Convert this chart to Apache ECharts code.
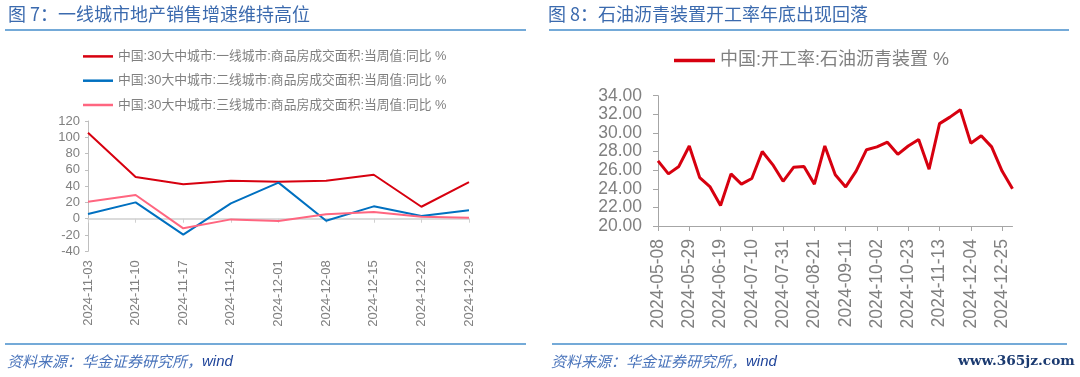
<!DOCTYPE html>
<html>
<head>
<meta charset="utf-8">
<script src="https://cdn.jsdelivr.net/npm/echarts@6/dist/echarts.min.js"></script>
<style>
html,body{margin:0;padding:0;background:#fff;}
#c{width:1080px;height:377px;}
</style>
</head>
<body>
<div id="c"></div>
<script>
// ---- Left chart data ----
const leftDates = ['2024-11-03','2024-11-10','2024-11-17','2024-11-24','2024-12-01','2024-12-08','2024-12-15','2024-12-22','2024-12-29'];
const tier1 = [105.6, 51.2, 42.2, 46.7, 45.5, 46.7, 54.0, 14.7, 45.0];
const tier2 = [5.7, 20.1, -19.6, 18.9, 44.3, -2.5, 15.2, 3.3, 10.3];
const tier3 = [20.9, 29.1, -11.8, -0.8, -2.8, 5.4, 8.2, 2.5, 1.2];
const leftNames = ['中国:30大中城市:一线城市:商品房成交面积:当周值:同比 %',
                   '中国:30大中城市:二线城市:商品房成交面积:当周值:同比 %',
                   '中国:30大中城市:三线城市:商品房成交面积:当周值:同比 %'];

// ---- Right chart data ----
const rightDates = ['2024-05-08','2024-05-15','2024-05-22','2024-05-29','2024-06-05','2024-06-12','2024-06-19',
  '2024-06-26','2024-07-03','2024-07-10','2024-07-17','2024-07-24','2024-07-31','2024-08-07','2024-08-14',
  '2024-08-21','2024-08-28','2024-09-04','2024-09-11','2024-09-18','2024-09-25','2024-10-02','2024-10-09',
  '2024-10-16','2024-10-23','2024-10-30','2024-11-06','2024-11-13','2024-11-20','2024-11-27','2024-12-04',
  '2024-12-11','2024-12-18','2024-12-25','2025-01-01'];
const asphalt = [27.0, 25.6, 26.4, 28.6, 25.2, 24.2, 22.2, 25.6, 24.5, 25.1, 28.0, 26.6, 24.8, 26.3, 26.4,
  24.5, 28.6, 25.5, 24.2, 25.9, 28.2, 28.5, 29.0, 27.7, 28.6, 29.3, 26.1, 31.0, 31.7, 32.5, 28.9,
  29.7, 28.5, 25.9, 24.0];
const rightName = '中国:开工率:石油沥青装置 %';

const FONT = '"Liberation Sans", "Noto Sans CJK SC", sans-serif';
const CJK = '"Noto Sans CJK SC", sans-serif';
const GRAY = '#808080';
const AX = '#bfbfbf';
const LINEBLUE = '#74aad8';
const TITLEBLUE = '#3b6aae';

const chart = echarts.init(document.getElementById('c'), null, {renderer: 'canvas'});

const option = {
  backgroundColor: '#ffffff',
  animation: false,
  textStyle: {fontFamily: FONT},
  legend: [
    {
      data: leftNames,
      orient: 'vertical',
      left: 83, top: 50, padding: 0,
      itemWidth: 30, itemHeight: 2.5, itemGap: 11.5,
      icon: 'rect',
      textStyle: {color: GRAY, fontSize: 12.8, lineHeight: 12, fontFamily: FONT},
      selectedMode: false
    },
    {
      data: [rightName],
      left: 674, top: 51.5, padding: 0,
      itemWidth: 41, itemHeight: 3.5, itemGap: 5,
      icon: 'rect',
      textStyle: {color: GRAY, fontSize: 18, fontFamily: FONT},
      selectedMode: false
    }
  ],
  grid: [
    {left: 88, right: 611, top: 121, bottom: 125.7, containLabel: false},
    {left: 658, right: 67.5, top: 95.7, bottom: 151, containLabel: false}
  ],
  xAxis: [
    {
      gridIndex: 0, type: 'category', data: leftDates, boundaryGap: false,
      axisLine: {onZero: true, lineStyle: {color: '#d0d0d0', width: 1.5}},
      axisTick: {show: true, length: 4, lineStyle: {color: '#d0d0d0'}},
      axisLabel: {rotate: 90, margin: 9, color: GRAY, fontSize: 13, interval: 0, fontFamily: FONT},
      splitLine: {show: false}
    },
    {
      gridIndex: 1, type: 'category', data: rightDates, boundaryGap: false,
      axisLine: {lineStyle: {color: '#a6a6a6', width: 1}},
      axisTick: {show: true, length: 5, interval: 2, lineStyle: {color: '#a6a6a6'}},
      axisLabel: {rotate: 90, margin: 13, color: GRAY, fontSize: 17.5, interval: 2, fontFamily: FONT},
      splitLine: {show: false}
    }
  ],
  yAxis: [
    {
      gridIndex: 0, type: 'value', min: -40, max: 120, interval: 20,
      axisLine: {show: true, lineStyle: {color: AX}},
      axisTick: {show: true, length: 3, lineStyle: {color: AX}},
      axisLabel: {color: GRAY, fontSize: 13, margin: 8, fontFamily: FONT},
      splitLine: {show: false}
    },
    {
      gridIndex: 1, type: 'value', min: 20, max: 34, interval: 2,
      axisLine: {show: true, lineStyle: {color: '#a6a6a6'}},
      axisTick: {show: true, length: 5, lineStyle: {color: '#a6a6a6'}},
      axisLabel: {color: GRAY, fontSize: 17.5, margin: 16, fontFamily: FONT,
                  formatter: v => v.toFixed(2)},
      splitLine: {show: false}
    }
  ],
  series: [
    {name: leftNames[0], type: 'line', xAxisIndex: 0, yAxisIndex: 0, data: tier1,
     symbol: 'none', lineStyle: {color: '#d7000f', width: 2}, itemStyle: {color: '#d7000f'}},
    {name: leftNames[1], type: 'line', xAxisIndex: 0, yAxisIndex: 0, data: tier2,
     symbol: 'none', lineStyle: {color: '#0070c0', width: 2}, itemStyle: {color: '#0070c0'}},
    {name: leftNames[2], type: 'line', xAxisIndex: 0, yAxisIndex: 0, data: tier3,
     symbol: 'none', lineStyle: {color: '#ff6680', width: 2}, itemStyle: {color: '#ff6680'}},
    {name: rightName, type: 'line', xAxisIndex: 1, yAxisIndex: 1, data: asphalt,
     symbol: 'none', lineStyle: {color: '#d7000f', width: 3}, itemStyle: {color: '#d7000f'}}
  ],
  graphic: [
    {type: 'text', left: 8, top: 5, style: {text: '图 7：一线城市地产销售增速维持高位', fill: TITLEBLUE, font: '18px ' + CJK}},
    {type: 'text', left: 548, top: 5, style: {text: '图 8：石油沥青装置开工率年底出现回落', fill: TITLEBLUE, font: '18px ' + CJK}},
    {type: 'line', shape: {x1: 5, y1: 30, x2: 526, y2: 30}, style: {stroke: LINEBLUE, lineWidth: 2}},
    {type: 'line', shape: {x1: 549, y1: 30, x2: 1069, y2: 30}, style: {stroke: LINEBLUE, lineWidth: 2}},
    {type: 'line', shape: {x1: 5, y1: 344, x2: 526, y2: 344}, style: {stroke: LINEBLUE, lineWidth: 2}},
    {type: 'line', shape: {x1: 552, y1: 344, x2: 1067, y2: 344}, style: {stroke: LINEBLUE, lineWidth: 2}},
    {type: 'text', left: 7, top: 354, style: {
      text: '{a|资料来源：华金证券研究所，}{b|wind}',
      rich: {
        a: {fill: '#4a74bb', font: 'italic 15px ' + CJK},
        b: {fill: '#1f449a', font: 'italic 15px "Liberation Sans", sans-serif'}
      }}},
    {type: 'text', left: 551, top: 354, style: {
      text: '{a|资料来源：华金证券研究所，}{b|wind}',
      rich: {
        a: {fill: '#4a74bb', font: 'italic 15px ' + CJK},
        b: {fill: '#1f449a', font: 'italic 15px "Liberation Sans", sans-serif'}
      }}},
    {type: 'text', left: 958, top: 354, style: {text: 'www.365jz.com', fill: '#1b3a70', font: 'bold 13.7px "DejaVu Serif", serif'}}
  ]
};
chart.setOption(option);
</script>
</body>
</html>
